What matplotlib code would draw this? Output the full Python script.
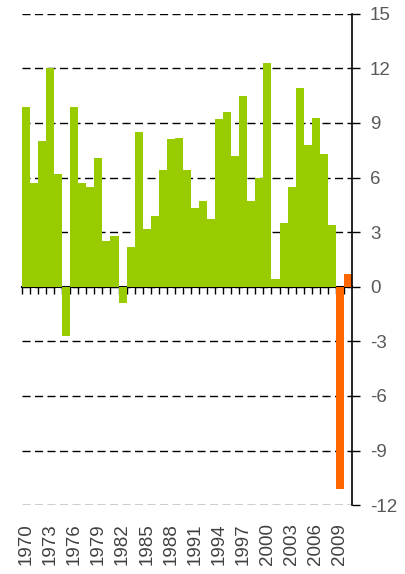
# growth bars, 1970-2010
import numpy as np
import matplotlib.pyplot as plt

plt.rcParams['font.family'] = ['Liberation Sans', 'DejaVu Sans']
plt.rcParams['axes.unicode_minus'] = False

hist_years = list(range(1970, 2009))
hist_vals = [9.9, 5.7, 8.0, 12.0, 6.2, -2.7, 9.9, 5.7, 5.5, 7.1,
             2.5, 2.8, -0.9, 2.2, 8.5, 3.2, 3.9, 6.4, 8.1, 8.2,
             6.4, 4.3, 4.7, 3.7, 9.2, 9.6, 7.2, 10.5, 4.7, 6.0,
             12.3, 0.4, 3.5, 5.5, 10.9, 7.8, 9.3, 7.3, 3.4]
proj_years = [2009, 2010]
proj_vals = [-11.1, 0.7]

label_years = list(range(1970, 2010, 3))
yticks = list(range(-12, 16, 3))
ymin, ymax = -12, 15

fig = plt.figure(figsize=(4.06, 5.74), dpi=100)
ax = fig.add_axes([0.054, 0.120, 0.813, 0.856])

ax.bar(hist_years, hist_vals, width=1.0, color='#99CC00', linewidth=0, zorder=2)
ax.bar(proj_years, proj_vals, width=0.92, color='#FF6600', linewidth=0, zorder=2)

ax.set_xlim(hist_years[0] - 0.5, proj_years[-1] + 0.5)
ax.set_ylim(ymin, ymax)

# dashed gridlines
ax.set_axisbelow(True)
ax.yaxis.grid(True, color='black', linewidth=1.0, linestyle=(0, (5.8, 3.2)))

# right axis
ax.yaxis.tick_right()
ax.set_yticks(yticks)
ax.tick_params(axis='y', direction='out', length=6, width=1.0, pad=7,
               labelsize=13.5, labelcolor='#595959', color='black')
for s in ['left', 'top', 'bottom']:
    ax.spines[s].set_visible(False)
ax.spines['right'].set_linewidth(1.2)

# year labels at bottom
ax.set_xticks(label_years)
ax.set_xticklabels([str(y) for y in label_years], rotation=90, fontsize=13.5,
                   color='#404040')
ax.tick_params(axis='x', length=0, pad=13)

# zero line with category ticks
all_years = hist_years + proj_years
sec = ax.secondary_xaxis((0 - ymin) / (ymax - ymin))
sec.set_xticks(np.array(all_years) - 0.5)
sec.set_xticklabels([])
sec.tick_params(direction='out', length=5, width=1.0, color='black')
sec.spines['bottom'].set_linewidth(1.5)
sec.spines['bottom'].set_zorder(3)

fig.savefig('out.png', dpi=100)
